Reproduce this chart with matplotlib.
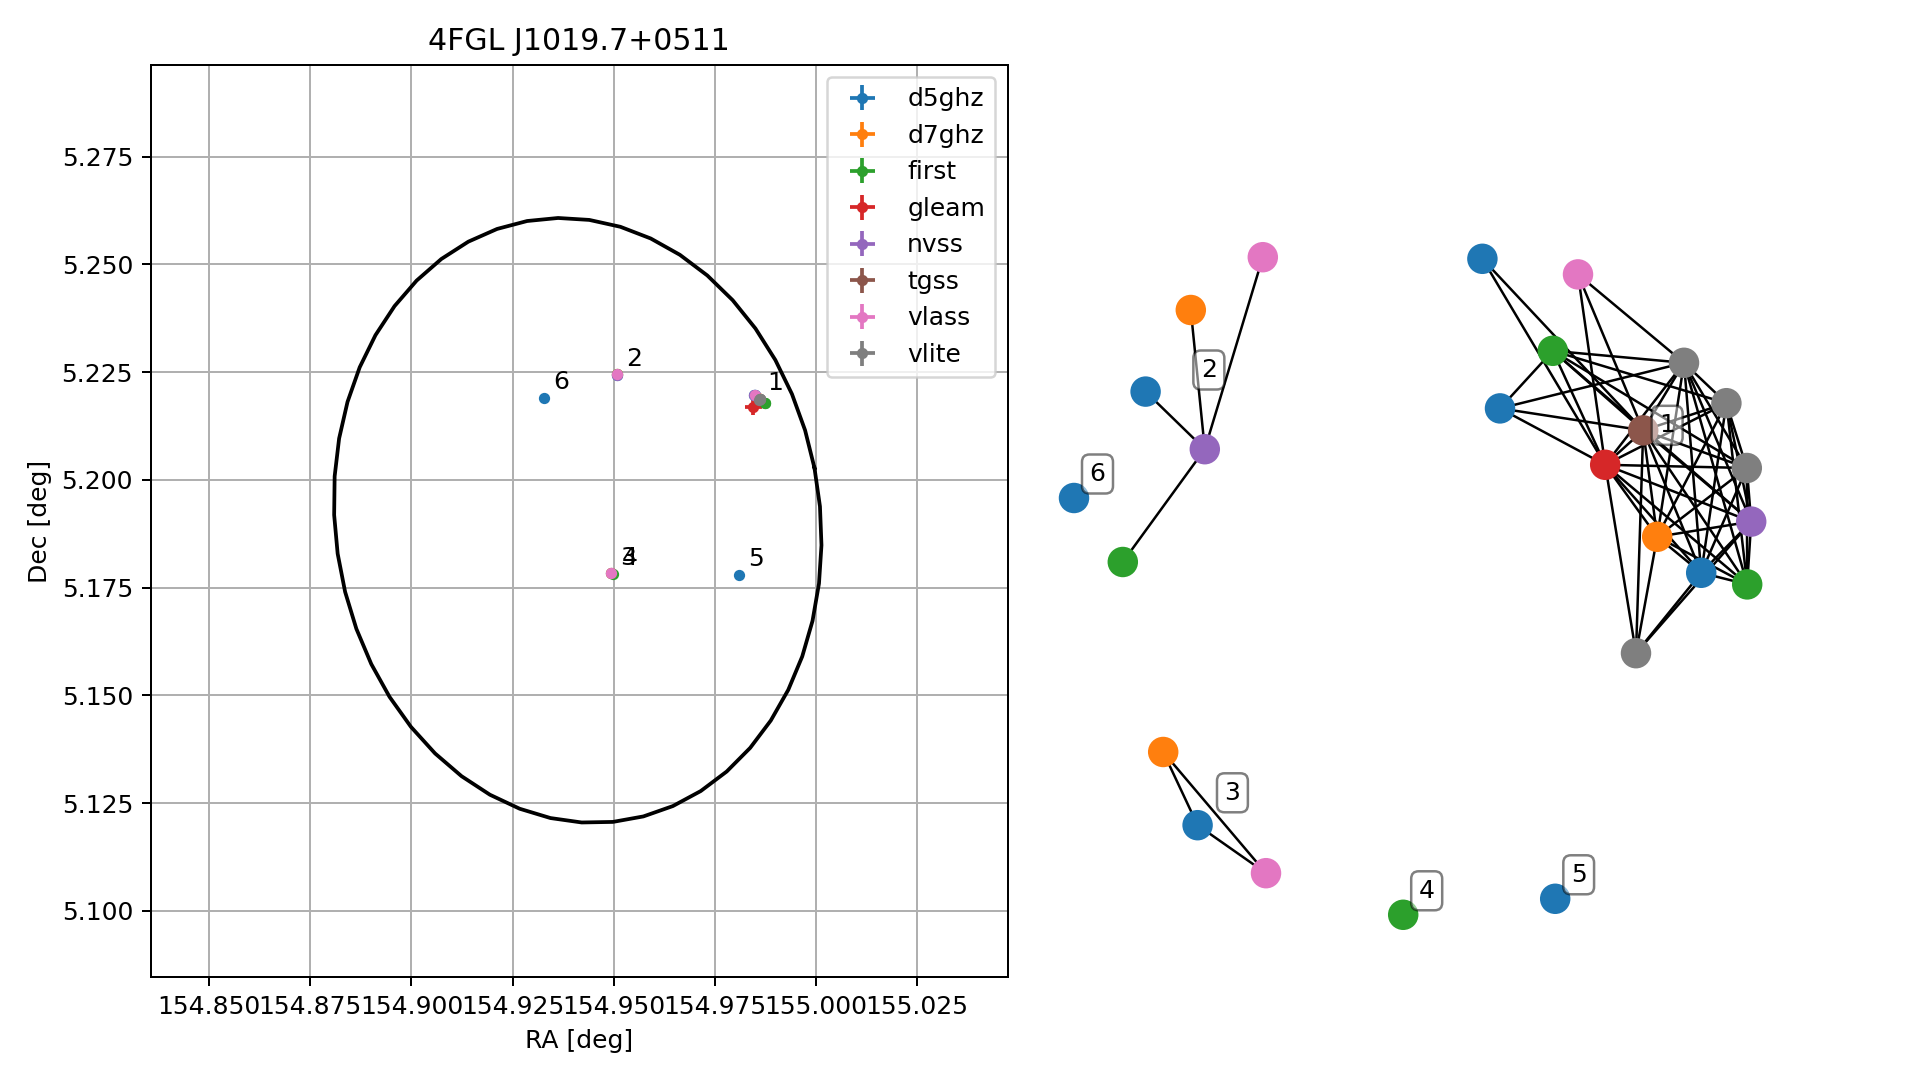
import numpy as np
import matplotlib.pyplot as plt
from matplotlib.collections import LineCollection

title = '4FGL J1019.7+0511'
catalogs = ['d5ghz', 'd7ghz', 'first', 'gleam', 'nvss', 'tgss', 'vlass', 'vlite']

# 4FGL error ellipse: centre, semi axes and tilt (deg)
ell_ra, ell_dec = 154.9411, 5.1906
ell_a, ell_b, ell_theta = 0.0598, 0.0706, 11.75
xlim = (154.8355, 155.0474)
ylim = (5.0846, 5.2963)

# one entry per radio source (= one node of the graph)
src_cat = ['d5ghz', 'd5ghz', 'd5ghz', 'd7ghz', 'first', 'first', 'gleam', 'nvss',
           'tgss', 'vlass', 'vlite', 'vlite', 'vlite', 'vlite',
           'vlass', 'd7ghz', 'd5ghz', 'nvss', 'first',
           'd7ghz', 'd5ghz', 'vlass',
           'first', 'd5ghz', 'd5ghz']
src_group = [1, 1, 1, 1, 1, 1, 1, 1, 1, 1, 1, 1, 1, 1,
             2, 2, 2, 2, 2,
             3, 3, 3,
             4, 5, 6]
src_ra = [154.9848, 154.9850, 154.9849, 154.9857, 154.9875, 154.9874, 154.9845, 154.9848,
          154.9861, 154.9849, 154.9861, 154.9862, 154.9860, 154.9861,
          154.9507, 154.9507, 154.9508, 154.9509, 154.9507,
          154.9494, 154.9494, 154.9494,
          154.9498, 154.9811, 154.9328]
src_dec = [5.2198, 5.2196, 5.2197, 5.2190, 5.2178, 5.2179, 5.2170, 5.2196,
           5.2187, 5.2197, 5.2187, 5.2188, 5.2186, 5.2187,
           5.2245, 5.2245, 5.2244, 5.2244, 5.2245,
           5.1783, 5.1784, 5.1783,
           5.1782, 5.1780, 5.2190]
src_era = [0.0001, 0.0001, 0.0001, 0.0001, 0.0002, 0.0002, 0.00205, 0.0003,
           0.0004, 0.0001, 0.0002, 0.0002, 0.0002, 0.0002,
           0.0001, 0.0001, 0.0001, 0.0003, 0.0002,
           0.0001, 0.0001, 0.0001,
           0.0002, 0.0001, 0.0001]
src_edec = [0.0001, 0.0001, 0.0001, 0.0001, 0.0002, 0.0002, 0.00186, 0.0003,
            0.0004, 0.0001, 0.0002, 0.0002, 0.0002, 0.0002,
            0.0001, 0.0001, 0.0001, 0.0003, 0.0002,
            0.0001, 0.0001, 0.0001,
            0.0002, 0.0001, 0.0001]

# graph layout positions of the nodes
node_x = [0.206, 0.250, 0.753, 0.643, 0.382, 0.868, 0.513, 0.878,
          0.608, 0.445, 0.710, 0.816, 0.867, 0.590,
          -0.343, -0.523, -0.636, -0.488, -0.693,
          -0.592, -0.506, -0.335,
          0.008, 0.388, -0.815]
node_y = [1.103, 0.729, 0.318, 0.408, 0.873, 0.289, 0.588, 0.446,
          0.674, 1.064, 0.843, 0.742, 0.580, 0.117,
          1.107, 0.975, 0.771, 0.627, 0.345,
          -0.130, -0.313, -0.433,
          -0.537, -0.497, 0.505]

# matches between sources
core = [10, 11, 8, 6, 12, 7, 3, 2, 5]
edges = [(0, 6), (0, 8), (9, 6), (9, 8), (9, 10),
         (1, 4), (1, 10), (1, 8), (1, 6),
         (4, 10), (4, 11), (4, 8), (4, 6), (4, 12), (4, 7),
         (13, 6), (13, 8), (13, 3), (13, 2), (13, 7),
         (17, 16), (17, 15), (17, 14), (17, 18),
         (19, 20), (19, 21), (20, 21)]
for i in range(len(core)):
    for j in range(i + 1, len(core)):
        edges.append((core[i], core[j]))

src_cat = np.array(src_cat)
src_group = np.array(src_group)
src_ra = np.array(src_ra)
src_dec = np.array(src_dec)
node_x = np.array(node_x)
node_y = np.array(node_y)
colors = {c: 'C%d' % i for i, c in enumerate(catalogs)}

fig = plt.figure(figsize=(1919 / 180, 6), dpi=180)
ax1 = fig.add_axes([150.6 / 1919, 0.0952, 857 / 1919, 0.8447])
ax2 = fig.add_axes([1050 / 1919, 0.0952, 855 / 1919, 0.8447])

# left: positions on the sky
t = np.linspace(0, 2 * np.pi, 50)
th = np.radians(ell_theta)
ex = ell_ra + ell_a * np.cos(t) * np.cos(th) - ell_b * np.sin(t) * np.sin(th)
ey = ell_dec + ell_a * np.cos(t) * np.sin(th) + ell_b * np.sin(t) * np.cos(th)
ax1.plot(ex, ey, 'k-', lw=1.5)

for c in catalogs:
    m = src_cat == c
    ax1.errorbar(src_ra[m], src_dec[m], xerr=np.array(src_era)[m], yerr=np.array(src_edec)[m],
                 fmt='o', ms=3.5, color=colors[c], label=c)

for g in np.unique(src_group):
    m = src_group == g
    ax1.text(src_ra[m].mean() + 0.0022, src_dec[m].mean() + 0.002, str(g), fontsize=10)

ax1.set_xlim(xlim)
ax1.set_ylim(ylim)
ax1.grid(True)
ax1.set_title(title)
ax1.set_xlabel('RA [deg]')
ax1.set_ylabel('Dec [deg]')
ax1.legend(loc='upper right')

# right: match graph
segs = [[(node_x[i], node_y[i]), (node_x[j], node_y[j])] for i, j in edges]
ax2.add_collection(LineCollection(segs, colors='k', linewidths=1.0, zorder=1))
ax2.scatter(node_x, node_y, s=125, c=[colors[c] for c in src_cat], zorder=2)
for g in np.unique(src_group):
    m = src_group == g
    ax2.annotate(str(g), (node_x[m].mean(), node_y[m].mean()), xytext=(9.4, 9.6),
                 textcoords='offset points', ha='center', va='center', fontsize=10, zorder=3,
                 bbox=dict(boxstyle='round', fc='white', ec='black', alpha=0.5))
ax2.set_xlim(-0.875, 1.2625)
ax2.set_ylim(-0.693, 1.58775)
ax2.axis('off')

fig.savefig('out.png', dpi=180)
